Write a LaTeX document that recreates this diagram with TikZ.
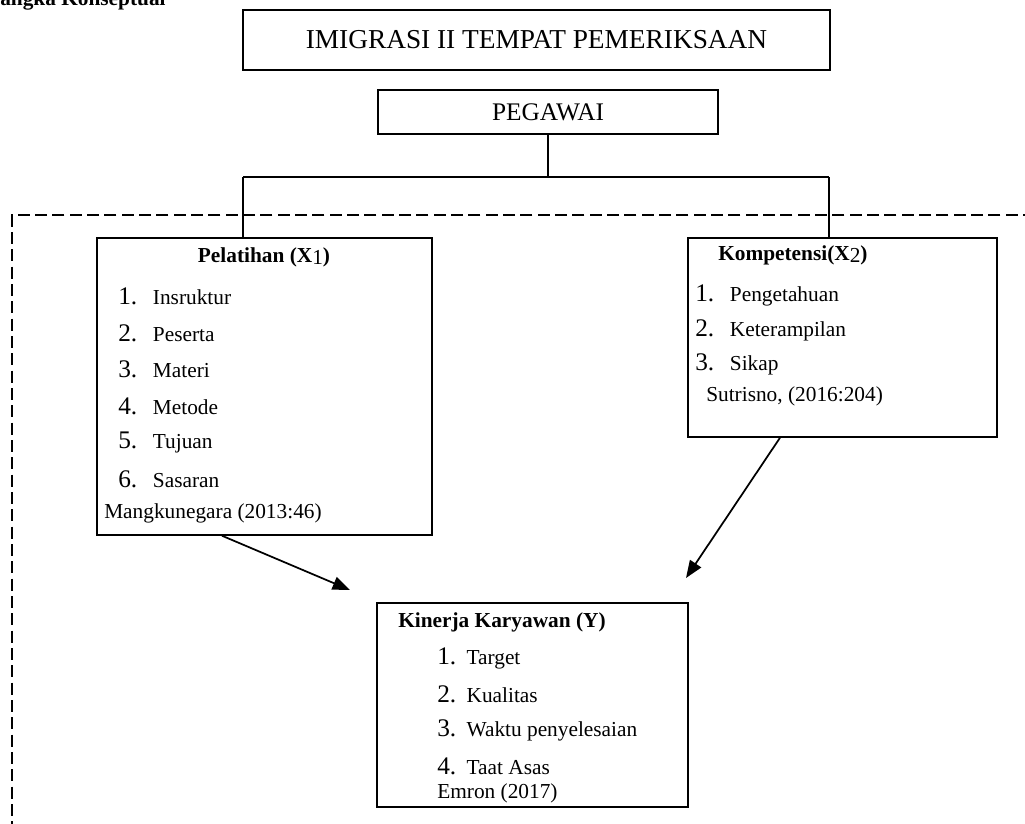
\documentclass[tikz,border=0pt]{standalone}
\usepackage{fontspec}
\setmainfont{Liberation Serif}
\usetikzlibrary{arrows.meta}
\newcommand\nlab[2]{\makebox[#1][l]{\fontsize{19}{22}\selectfont #2}}
\begin{document}
\begin{tikzpicture}[x=0.75pt,y=-0.75pt,
 box/.style={draw, line width=1.1pt, inner sep=0pt},
 conn/.style={line width=1.1pt},
 arr/.style={line width=1.3pt, -{Triangle[length=13pt,width=10pt]}},
 hd/.style={font=\fontsize{19}{22}\selectfont, inner sep=0pt},
 ttl/.style={font=\bfseries\fontsize{16}{19}\selectfont, inner sep=0pt, anchor=west},
 itm/.style={font=\fontsize{16}{19}\selectfont, inner sep=0pt, anchor=west},
 dsh/.style={line width=2.2pt, dash pattern=on 9pt off 4pt}]
\useasboundingbox (0,0) rectangle (1025,824);
\clip (0,0) rectangle (1025,824);
% cut-off heading
\node[anchor=base west, font=\bfseries\fontsize{16}{19}\selectfont, inner sep=0pt] (heading) at (0,6) {angka Konseptual};
% dashed frame
\draw[dsh] (1035,215) -- (12,215) -- (12,835);
% top boxes
\node[box, minimum width=440.25pt, minimum height=45pt, hd, font=\fontsize{20.5}{24}\selectfont] (imi) at (536.5,40) {IMIGRASI II TEMPAT PEMERIKSAAN};
\node[box, minimum width=255pt, minimum height=33pt, hd] (peg) at (548,112) {PEGAWAI};
% variable boxes
\node[box, minimum width=251.25pt, minimum height=222.75pt] (pel) at (264.5,386.5) {};
\node[box, minimum width=231.75pt, minimum height=149.25pt] (komp) at (842.5,337.5) {};
\node[box, minimum width=233.25pt, minimum height=153pt] (kin) at (532.5,705) {};
% bus
\coordinate (busL) at (243,177);
\coordinate (busR) at (829,177);
\draw[conn] (peg.south) -- (peg.south |- busL);
\draw[conn] (busL) -- (busR);
\draw[conn] (busL) -- (busL |- pel.north);
\draw[conn] (busR) -- (busR |- komp.north);
% Pelatihan text
\node[ttl, anchor=center] (pelT) at (264,257) {Pelatihan (X\raisebox{-0.12em}{\mdseries 1})};
\node[itm] (p1) at (118,296) {\nlab{26pt}{1.}Insruktur};
\node[itm] (p2) at (118,333) {\nlab{26pt}{2.}Peserta};
\node[itm] (p3) at (118,369) {\nlab{26pt}{3.}Materi};
\node[itm] (p4) at (118,406) {\nlab{26pt}{4.}Metode};
\node[itm] (p5) at (118,442) {\nlab{26pt}{5.}Tujuan};
\node[itm] (p6) at (118,479) {\nlab{26pt}{6.}Sasaran};
\node[itm] (pc) at (104,513) {Mangkunegara (2013:46)};
% Kompetensi text
\node[ttl] (kompT) at (718,255) {Kompetensi(X\raisebox{-0.12em}{\mdseries 2})};
\node[itm] (k1) at (695,295) {\nlab{26pt}{1.}Pengetahuan};
\node[itm] (k2) at (695,330) {\nlab{26pt}{2.}Keterampilan};
\node[itm] (k3) at (695,364) {\nlab{26pt}{3.}Sikap};
\node[itm] (kc) at (706,396) {Sutrisno, (2016:204)};
% Kinerja text
\node[ttl] (kinT) at (398,622) {Kinerja Karyawan (Y)};
\node[itm] (y1) at (437,658) {\nlab{22pt}{1.}Target};
\node[itm] (y2) at (437,694) {\nlab{22pt}{2.}Kualitas};
\node[itm] (y3) at (437,730) {\nlab{22pt}{3.}Waktu penyelesaian};
\node[itm] (y4) at (437,766) {\nlab{22pt}{4.}Taat Asas};
\node[itm] (yc) at (437,793) {Emron (2017)};
% arrows
\coordinate (a1x) at (222,0);
\coordinate (a1e) at (350,590);
\coordinate (a2x) at (780,0);
\coordinate (a2e) at (686,578);
\draw[arr] (a1x |- pel.south) -- (a1e);
\draw[arr] (a2x |- komp.south) -- (a2e);
\end{tikzpicture}
\end{document}
